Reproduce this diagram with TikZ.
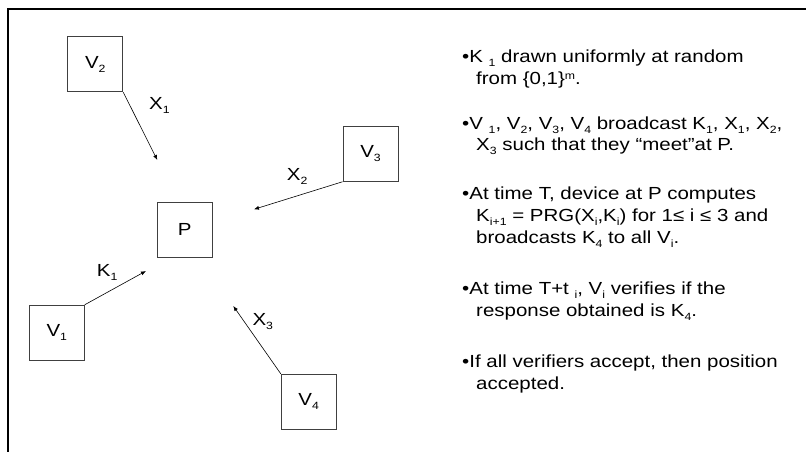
\documentclass[tikz,border=0pt]{standalone}
\usepackage{fontspec}
\setmainfont{Liberation Sans}[FakeStretch=1.17]
\usepackage{tikz}
\usetikzlibrary{arrows.meta,positioning}

\newcommand{\slidefont}{\fontsize{17.5}{21}\selectfont}
\newcommand{\dnx}[1]{\raisebox{-4pt}{\fontsize{10.5}{10.5}\selectfont #1}}
\newcommand{\upx}[1]{\raisebox{5pt}{\fontsize{10.5}{10.5}\selectfont #1}}

\begin{document}
\begin{tikzpicture}[
    x=1pt, y=-1pt,
    box/.style={rectangle, draw=black!75, line width=0.9pt, minimum width=55pt, minimum height=55pt, inner sep=0pt, font=\slidefont},
    arrow/.style={-{Latex[length=5pt,width=4pt]}, line width=0.6pt},
    lbl/.style={anchor=base west, inner sep=0pt, font=\slidefont},
    txt/.style={anchor=base west, inner sep=0pt, font=\slidefont}
]
    \useasboundingbox (0,0) rectangle (806,452);
    \draw[line width=1.2pt] (806,9) -- (8,9) -- (8,452);

    % devices and the position P
    \node[box] (v2) at (95.3,64.3) {V\dnx{2}};
    \node[box] (v3) at (370.5,153.8) {V\dnx{3}};
    \node[box] (p) at (184.8,229.5) {P};
    \node[box] (v1) at (56.8,332.7) {V\dnx{1}};
    \node[box] (v4) at (308.7,401.7) {V\dnx{4}};

    \coordinate (h2) at (157.3,160);
    \coordinate (h3) at (254,209.3);
    \coordinate (h1) at (146,271);
    \coordinate (h4) at (233.3,306);

    \draw[arrow] (v2.south east) -- (h2);
    \draw[arrow] (v3.south west) -- (h3);
    \draw[arrow] (v1.north east) -- (h1);
    \draw[arrow] (v4.north west) -- (h4);

    \node[lbl] (x1) at (149,110) {X\dnx{1}};
    \node[lbl] (x2) at (286.7,180) {X\dnx{2}};
    \node[lbl] (k1) at (96.7,276) {K\dnx{1}};
    \node[lbl] (x3) at (252.3,325) {X\dnx{3}};

    % protocol steps
    \node[txt] (l1) at (462,63) {•K \dnx{1} drawn uniformly at random};
    \node[txt] (l2) at (476,84.5) {from \{0,1\}\upx{m}.};
    \node[txt] (l3) at (462,129) {•V \dnx{1}, V\dnx{2}, V\dnx{3}, V\dnx{4} broadcast K\dnx{1}, X\dnx{1}, X\dnx{2},};
    \node[txt] (l4) at (476,150.5) {X\dnx{3} such that they “meet”at P.};
    \node[txt] (l5) at (462,199) {•At time T, device at P computes};
    \node[txt] (l6) at (476,221) {K\dnx{i+1} = PRG(X\dnx{i},K\dnx{i}) for 1≤ i ≤ 3 and};
    \node[txt] (l7) at (476,243) {broadcasts K\dnx{4} to all V\dnx{i}.};
    \node[txt] (l8) at (462,294) {•At time T+t \dnx{i}, V\dnx{i} verifies if the};
    \node[txt] (l9) at (476,316) {response obtained is K\dnx{4}.};
    \node[txt] (l10) at (462,367) {•If all verifiers accept, then position};
    \node[txt] (l11) at (476,389) {accepted.};
\end{tikzpicture}
\end{document}
